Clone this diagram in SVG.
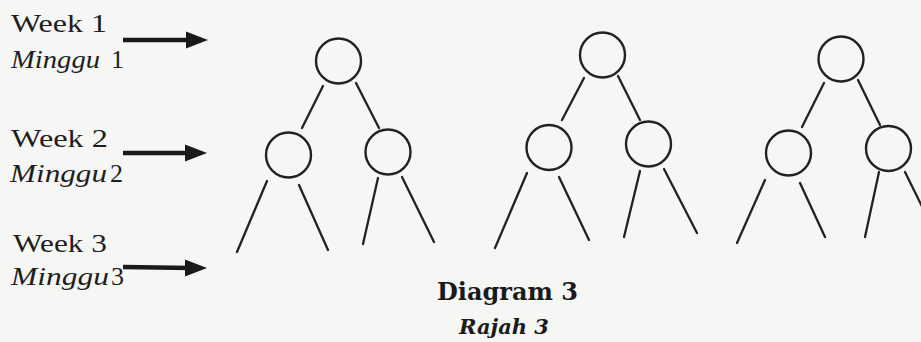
<svg xmlns="http://www.w3.org/2000/svg" width="921" height="342" viewBox="0 0 921 342">
<style>
.bg{fill:#f6f6f5}
.lbl{font-family:"Liberation Serif","Times New Roman",serif;font-size:26px;fill:#1e1e1e}
.it{font-style:italic}
.node{fill:none;stroke:#222;stroke-width:2.4}
.edge{stroke:#222;stroke-width:2.3;stroke-linecap:round;fill:none}
.arrow{stroke:#1a1a1a;stroke-width:4.5;fill:none}
.head{fill:#1a1a1a}
.title{font-family:"DejaVu Serif","Liberation Serif",serif;font-weight:bold;font-size:24px;fill:#1a1a1a}
.sub{font-family:"DejaVu Serif","Liberation Serif",serif;font-weight:bold;font-style:italic;font-size:21px;fill:#1a1a1a}
</style>
<defs>
<path id="ah" class="head" d="M0,0 L-22,-8.5 L-22,8.5 Z"/>
</defs>
<rect class="bg" x="0" y="0" width="921" height="342"/>
<g id="labels">
<text class="lbl" x="11" y="32" textLength="96" lengthAdjust="spacingAndGlyphs">Week 1</text>
<text class="lbl" x="11" y="68"><tspan class="it" textLength="89" lengthAdjust="spacingAndGlyphs">Minggu</tspan><tspan x="111">1</tspan></text>
<text class="lbl" x="11" y="147" textLength="97" lengthAdjust="spacingAndGlyphs">Week 2</text>
<text class="lbl" x="10" y="182"><tspan class="it" textLength="97" lengthAdjust="spacingAndGlyphs">Minggu</tspan><tspan x="110">2</tspan></text>
<text class="lbl" x="13" y="252" textLength="94" lengthAdjust="spacingAndGlyphs">Week 3</text>
<text class="lbl" x="11" y="285"><tspan class="it" textLength="98" lengthAdjust="spacingAndGlyphs">Minggu</tspan><tspan x="111">3</tspan></text>
</g>
<g id="arrows">
<line class="arrow" x1="123" y1="40" x2="192" y2="40"/>
<use href="#ah" x="208" y="40"/>
<line class="arrow" x1="123" y1="153" x2="191" y2="153"/>
<use href="#ah" x="207" y="153"/>
<line class="arrow" x1="123" y1="267" x2="191" y2="268"/>
<use href="#ah" x="207" y="268"/>
</g>
<g id="connectors">
<line class="edge" x1="323" y1="86" x2="302" y2="128"/>
<line class="edge" x1="356" y1="83" x2="379" y2="128"/>
<line class="edge" x1="267" y1="181" x2="237" y2="252"/>
<line class="edge" x1="299" y1="185" x2="328" y2="250"/>
<line class="edge" x1="378" y1="178" x2="363" y2="244"/>
<line class="edge" x1="402" y1="177" x2="434" y2="242"/>
<line class="edge" x1="584" y1="78" x2="562" y2="120"/>
<line class="edge" x1="618" y1="76" x2="640" y2="120"/>
<line class="edge" x1="527" y1="173" x2="495" y2="248"/>
<line class="edge" x1="559" y1="177" x2="589" y2="240"/>
<line class="edge" x1="640" y1="171" x2="624" y2="237"/>
<line class="edge" x1="664" y1="169" x2="697" y2="233"/>
<line class="edge" x1="824" y1="83" x2="802" y2="127"/>
<line class="edge" x1="858" y1="80" x2="880" y2="125"/>
<line class="edge" x1="765" y1="180" x2="737" y2="243"/>
<line class="edge" x1="800" y1="183" x2="825" y2="237"/>
<line class="edge" x1="879" y1="172" x2="865" y2="237"/>
<line class="edge" x1="905" y1="172" x2="937" y2="237"/>
</g>
<g id="t1-root"><circle class="node" cx="338.5" cy="61" r="22.5"/></g>
<g id="t1-left"><circle class="node" cx="288.5" cy="155" r="22.5"/></g>
<g id="t1-right"><circle class="node" cx="388" cy="152" r="22.5"/></g>
<g id="t2-root"><circle class="node" cx="602.5" cy="55" r="22.5"/></g>
<g id="t2-left"><circle class="node" cx="549" cy="147.5" r="22.5"/></g>
<g id="t2-right"><circle class="node" cx="648.5" cy="144" r="22.5"/></g>
<g id="t3-root"><circle class="node" cx="841" cy="59" r="22.5"/></g>
<g id="t3-left"><circle class="node" cx="788.5" cy="153" r="22.5"/></g>
<g id="t3-right"><circle class="node" cx="888.5" cy="148.5" r="22.5"/></g>
<g id="caption">
<text class="title" x="437" y="300">Diagram 3</text>
<text class="sub" x="459" y="334">Rajah 3</text>
</g>
</svg>
